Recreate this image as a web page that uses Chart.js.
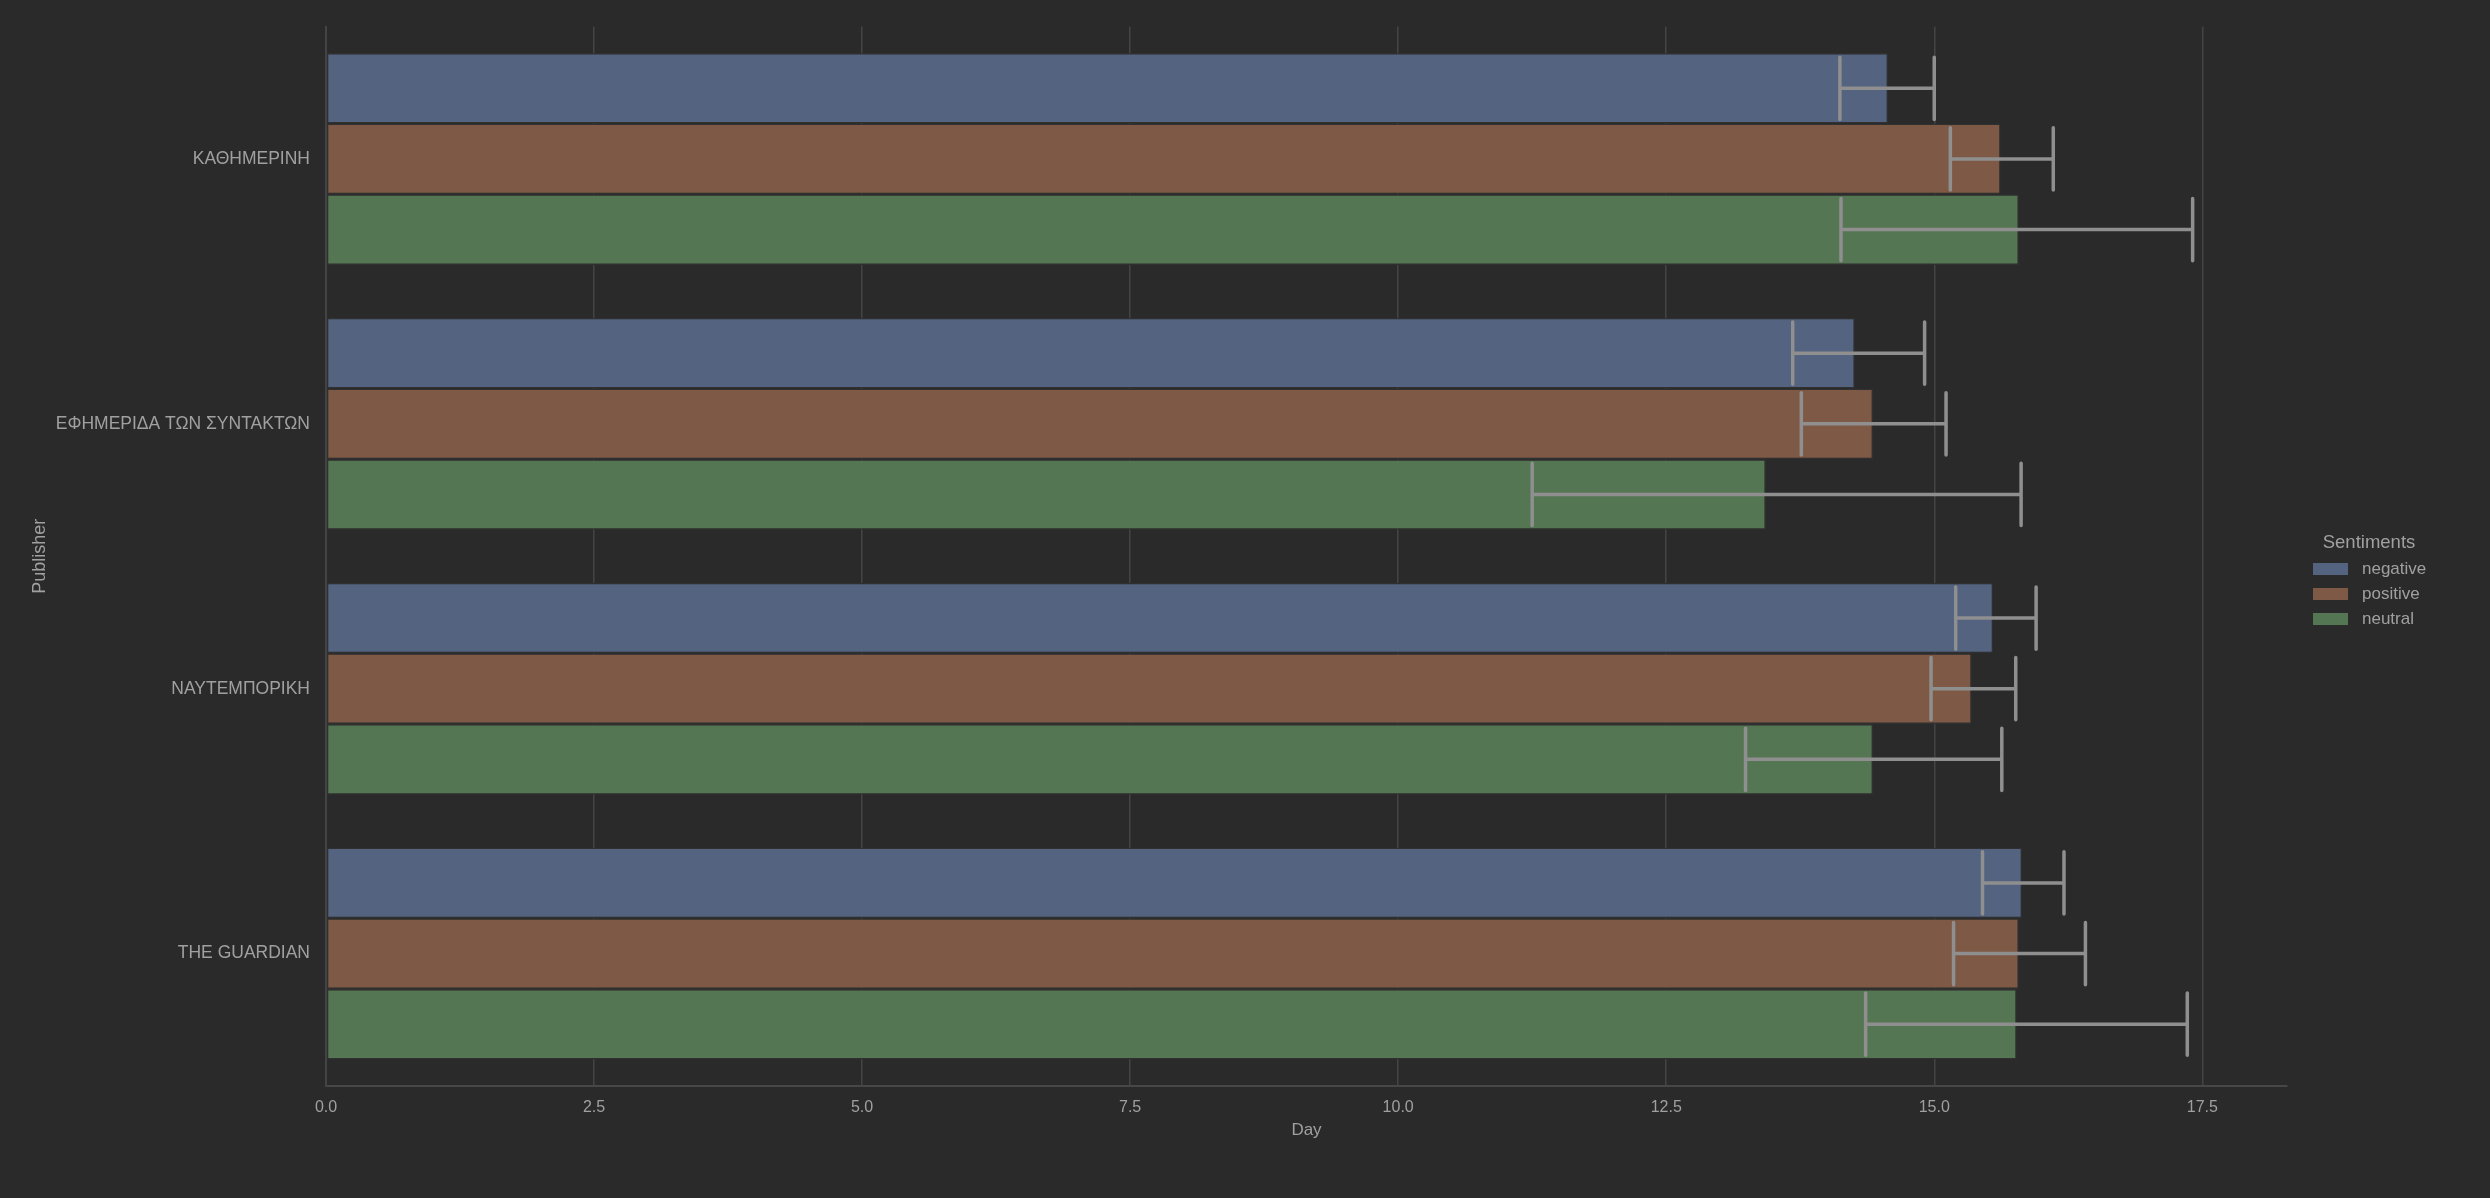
<!DOCTYPE html>
<html>
<head>
<meta charset="utf-8">
<script src="https://cdn.jsdelivr.net/npm/chart.js@4"></script>
<style>
  html, body { margin: 0; padding: 0; background: #2a2a2a; }
  canvas { display: block; }
</style>
</head>
<body>
<canvas id="c" width="2490" height="1198"></canvas>
<script>
const categories = ['ΚΑΘΗΜΕΡΙΝΗ', 'ΕΦΗΜΕΡΙΔΑ ΤΩΝ ΣΥΝΤΑΚΤΩΝ', 'ΝΑΥΤΕΜΠΟΡΙΚΗ', 'THE GUARDIAN'];
const seriesNames = ['negative', 'positive', 'neutral'];

const negative     = [14.57, 14.26, 15.55, 15.82];
const negativeLow  = [14.12, 13.68, 15.20, 15.45];
const negativeHigh = [15.00, 14.91, 15.95, 16.21];

const positive     = [15.62, 14.43, 15.35, 15.79];
const positiveLow  = [15.15, 13.76, 14.97, 15.18];
const positiveHigh = [16.11, 15.11, 15.76, 16.41];

const neutral      = [15.79, 13.43, 14.43, 15.77];
const neutralLow   = [14.13, 11.25, 13.24, 14.36];
const neutralHigh  = [17.41, 15.81, 15.63, 17.36];

const xTicks = [0, 2.5, 5, 7.5, 10, 12.5, 15, 17.5];
const xMax = 18.29;

const colors = ['#536380', '#7e5a46', '#557653'];
const FONT = "'Liberation Sans', Arial, sans-serif";
const TEXT = '#a0a0a0';

const errLows = [negativeLow, positiveLow, neutralLow];
const errHighs = [negativeHigh, positiveHigh, neutralHigh];

const errorBarPlugin = {
  id: 'errorBars',
  afterDatasetsDraw(chart) {
    const ctx = chart.ctx;
    const xs = chart.scales.x;
    ctx.save();
    ctx.strokeStyle = '#8f8f8f';
    ctx.lineWidth = 3.5;
    ctx.lineCap = 'round';
    chart.data.datasets.forEach((ds, di) => {
      const meta = chart.getDatasetMeta(di);
      meta.data.forEach((el, i) => {
        const lo = xs.getPixelForValue(errLows[di][i]);
        const hi = xs.getPixelForValue(errHighs[di][i]);
        const y = el.y;
        const cap = el.height * 0.44;
        ctx.beginPath();
        ctx.moveTo(lo, y); ctx.lineTo(hi, y);
        ctx.moveTo(lo, y - cap); ctx.lineTo(lo, y + cap);
        ctx.moveTo(hi, y - cap); ctx.lineTo(hi, y + cap);
        ctx.stroke();
      });
    });
    ctx.restore();
  }
};

const legendPlugin = {
  id: 'customLegend',
  afterDraw(chart) {
    const ctx = chart.ctx;
    ctx.save();
    ctx.fillStyle = TEXT;
    ctx.font = '18.5px ' + FONT;
    ctx.textAlign = 'center';
    ctx.textBaseline = 'middle';
    ctx.fillText('Sentiments', 2369, 543);
    ctx.font = '17px ' + FONT;
    ctx.textAlign = 'left';
    chart.data.datasets.forEach((ds, i) => {
      const y = 569 + i * 25;
      ctx.fillStyle = ds.backgroundColor;
      ctx.fillRect(2313, y - 6, 35, 12);
      ctx.fillStyle = TEXT;
      ctx.fillText(ds.label, 2362, y);
    });
    ctx.restore();
  }
};

const bgPlugin = {
  id: 'bg',
  beforeDraw(chart) {
    const ctx = chart.ctx;
    ctx.save();
    ctx.fillStyle = '#2a2a2a';
    ctx.fillRect(0, 0, chart.width, chart.height);
    ctx.restore();
  }
};

const values = [negative, positive, neutral];

new Chart(document.getElementById('c'), {
  type: 'bar',
  data: {
    labels: categories,
    datasets: seriesNames.map((name, i) => ({
      label: name,
      data: values[i],
      backgroundColor: colors[i],
      borderColor: '#303030',
      borderWidth: 1.5,
      borderSkipped: false,
      categoryPercentage: 0.8,
      barPercentage: 1.0
    }))
  },
  options: {
    indexAxis: 'y',
    responsive: false,
    animation: false,
    devicePixelRatio: 1,
    layout: { padding: { top: 25, right: 203, bottom: 0, left: 0 } },
    plugins: {
      legend: { display: false },
      tooltip: { enabled: false }
    },
    scales: {
      x: {
        type: 'linear',
        min: 0,
        max: xMax,
        afterBuildTicks(scale) { scale.ticks = xTicks.map(v => ({ value: v })); },
        afterFit(scale) { scale.height = 112; },
        grid: { color: '#444444', lineWidth: 1.5, drawTicks: false },
        border: { display: true, color: '#474747', width: 2 },
        ticks: {
          color: TEXT,
          font: { family: FONT, size: 16 },
          padding: 12,
          callback: v => Number(v).toFixed(1)
        },
        title: {
          display: true,
          text: 'Day',
          color: TEXT,
          font: { family: FONT, size: 17 },
          padding: { top: 0, bottom: 57 }
        }
      },
      y: {
        type: 'category',
        afterFit(scale) { scale.width = 326; },
        grid: { display: false, drawTicks: false },
        border: { display: true, color: '#444444', width: 2 },
        ticks: {
          color: TEXT,
          font: { family: FONT, size: 17.5 },
          padding: 16
        },
        title: {
          display: true,
          text: 'Publisher',
          color: TEXT,
          font: { family: FONT, size: 18 },
          padding: { top: 29, bottom: 0 }
        }
      }
    }
  },
  plugins: [bgPlugin, errorBarPlugin, legendPlugin]
});
</script>
</body>
</html>
